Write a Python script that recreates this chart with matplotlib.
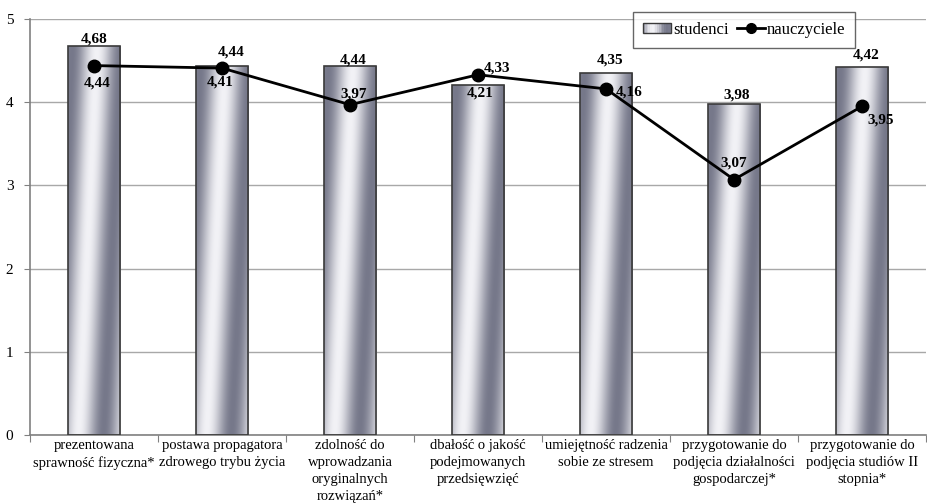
import numpy as np
import matplotlib
matplotlib.use("Agg")
import matplotlib.pyplot as plt
from matplotlib.patches import Rectangle
from matplotlib.lines import Line2D
from matplotlib.legend_handler import HandlerBase

categories = [
    "prezentowana\nsprawność fizyczna*",
    "postawa propagatora\nzdrowego trybu życia",
    "zdolność do\nwprowadzania\noryginalnych\nrozwiązań*",
    "dbałość o jakość\npodejmowanych\nprzedsięwzięć",
    "umiejętność radzenia\nsobie ze stresem",
    "przygotowanie do\npodjęcia działalności\ngospodarczej*",
    "przygotowanie do\npodjęcia studiów II\nstopnia*",
]
studenci = [4.68, 4.44, 4.44, 4.21, 4.35, 3.98, 4.42]
nauczyciele = [4.44, 4.41, 3.97, 4.33, 4.16, 3.07, 3.95]
y_ticks = [0, 1, 2, 3, 4, 5]

# label offsets in pixels (style only): baseline offset from the value point
stud_off = [(0, 3), (9, 10), (3, 2), (2, -12), (4, 10), (3, 5), (4, 9)]
teach_off = [(3, -21), (-2, -17), (4, 7), (19, 3), (23, -7), (0, 13), (19, -17)]

plt.rcParams['font.family'] = ['Liberation Serif', 'DejaVu Serif']

fig = plt.figure(figsize=(9.27, 5.04), dpi=100)
ax = fig.add_axes([30/927, 1-435/504, 896/927, 416/504])

x = np.arange(len(categories))
bw = 0.41

DARK = np.array([118, 120, 138]) / 255
LIGHT = np.array([242, 242, 246]) / 255


def shade(s):
    return 0.5 + 0.5 * np.cos(2 * np.pi * (s - 0.2) / 0.95)


def make_grad(nx=100, ny=300):
    u = np.linspace(0, 1, nx)[None, :]
    v = np.linspace(0, 1, ny)[:, None]
    s = u - 0.35 * v
    val = shade(s)
    return DARK[None, None, :] + (LIGHT - DARK)[None, None, :] * val[..., None]


grad = make_grad()

for xi, h in zip(x, studenci):
    r = Rectangle((xi - bw/2, 0), bw, h, facecolor='none', edgecolor='#3a3a3a', linewidth=1.2, zorder=3)
    ax.add_patch(r)
    im = ax.imshow(grad, extent=[xi - bw/2, xi + bw/2, 0, h], aspect='auto', origin='lower', zorder=2,
                   interpolation='bilinear')
    im.set_clip_path(r)

ax.plot(x, nauczyciele, color='black', linewidth=2, marker='o', markersize=9, zorder=5)

for xi, h, off in zip(x, studenci, stud_off):
    ax.annotate(f"{h:.2f}".replace('.', ','), (xi, h), xytext=off, textcoords='offset pixels',
                ha='center', va='baseline', fontsize=11, fontweight='bold', zorder=6)
for xi, h, off in zip(x, nauczyciele, teach_off):
    ax.annotate(f"{h:.2f}".replace('.', ','), (xi, h), xytext=off, textcoords='offset pixels',
                ha='center', va='baseline', fontsize=11, fontweight='bold', zorder=6)

ax.set_xlim(-0.5, len(categories) - 0.5)
ax.set_ylim(0, 5)
ax.set_yticks(y_ticks)
ax.set_yticklabels([str(t) for t in y_ticks], fontsize=11)
ax.grid(axis='y', color='#a8a8a8', linewidth=1, zorder=0)
ax.set_axisbelow(True)

ax.set_xticks(np.arange(-0.5, len(categories) + 0.5, 1))
ax.set_xticklabels([])
ax.set_xticks(x, minor=True)
ax.set_xticklabels(categories, minor=True, fontsize=10.5, linespacing=1.4)
ax.tick_params(axis='x', which='major', length=5, color='#808080', direction='out')
ax.tick_params(axis='x', which='minor', length=0, pad=3)
ax.tick_params(axis='y', length=4, color='#808080', pad=8)

for s in ['top', 'right']:
    ax.spines[s].set_visible(False)
for s in ['left', 'bottom']:
    ax.spines[s].set_color('#808080')
    ax.spines[s].set_linewidth(1.2)


class GradHandler(HandlerBase):
    def create_artists(self, legend, orig_handle, xdescent, ydescent, width, height, fontsize, trans):
        arts = []
        n = 16
        for i in range(n):
            t = (i + 0.5) / n
            c = DARK + (LIGHT - DARK) * shade(t * 0.9 - 0.1)
            arts.append(Rectangle((-xdescent + width * i / n, -ydescent), width / n + 0.3, height,
                                  facecolor=c, edgecolor='none', transform=trans))
        arts.append(Rectangle((-xdescent, -ydescent), width, height, facecolor='none',
                              edgecolor='#3a3a3a', linewidth=1, transform=trans))
        return arts


bar_handle = Rectangle((0, 0), 1, 1)
line_handle = Line2D([], [], color='black', linewidth=2, marker='o', markersize=7)
leg = ax.legend([bar_handle, line_handle], ['studenci', 'nauczyciele'],
                handler_map={Rectangle: GradHandler()},
                loc='upper left', bbox_to_anchor=(0.673, 1.017),
                ncol=2, fontsize=12, frameon=True, fancybox=False, handlelength=1.7,
                handleheight=0.6, handletextpad=0.1, columnspacing=0.5, borderaxespad=0,
                borderpad=0.6)
leg.get_frame().set_edgecolor('#404040')
leg.get_frame().set_linewidth(1)
leg.set_zorder(10)

fig.savefig('out.png', dpi=100)
